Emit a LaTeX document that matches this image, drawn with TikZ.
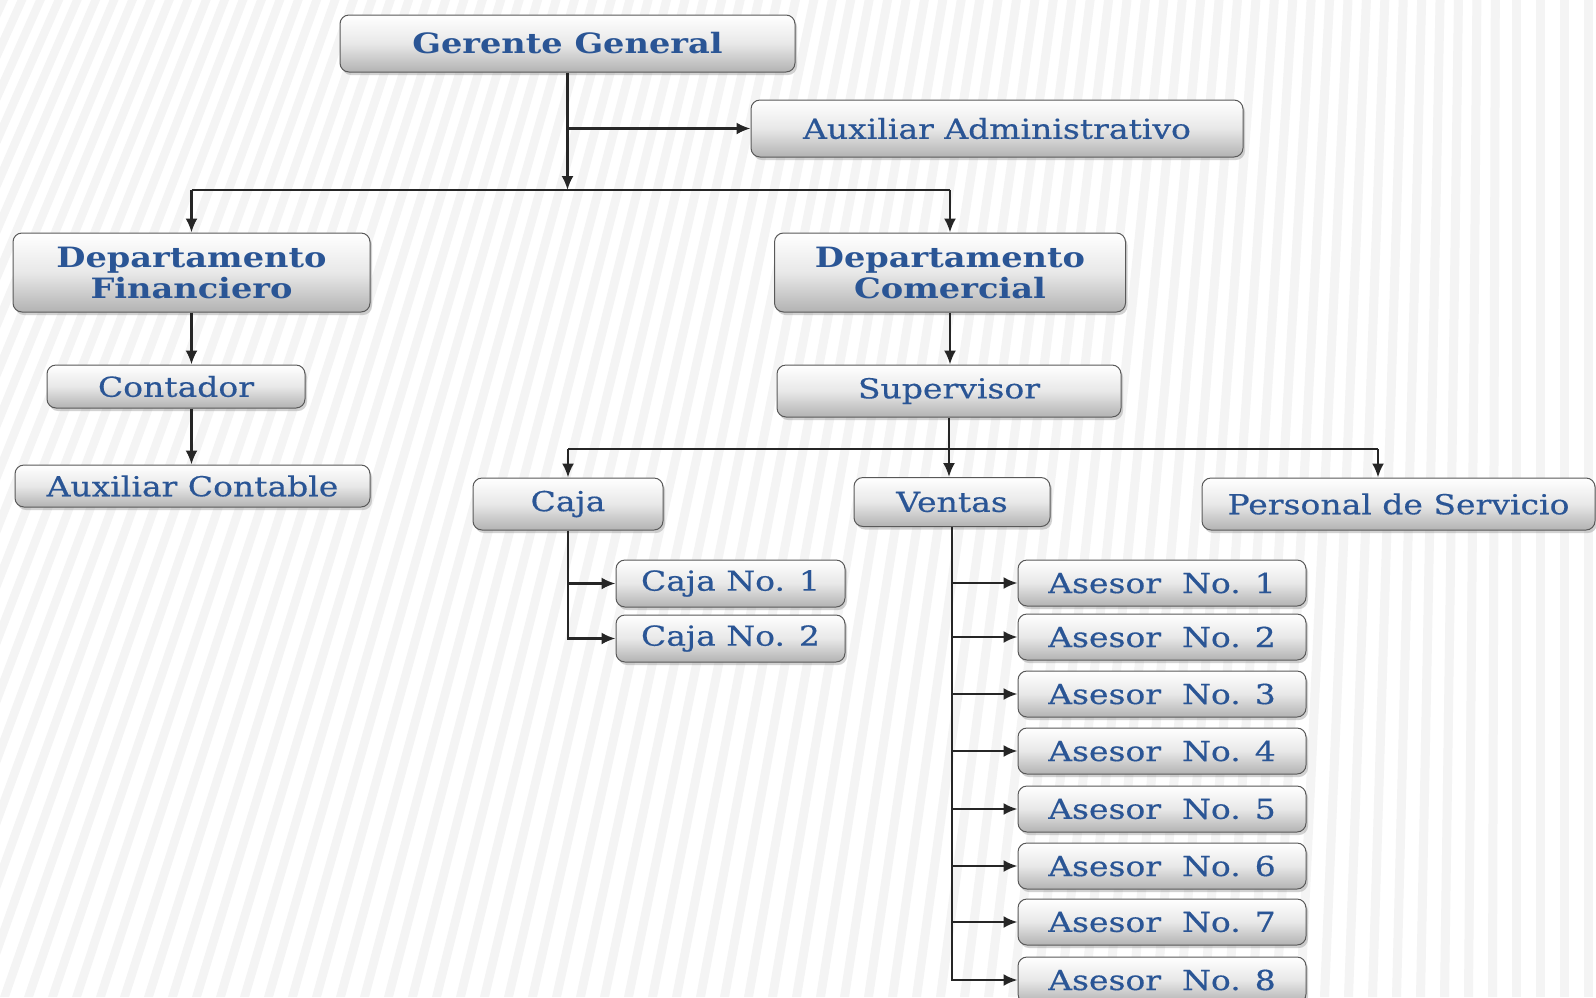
\documentclass[tikz,border=0pt]{standalone}
\usepackage{fontspec}
\setmainfont[FakeStretch=1.2]{DejaVu Serif}
\newfontfamily\regfont[FakeStretch=1.2,FakeBold=0.5]{DejaVu Serif}
\usetikzlibrary{arrows.meta,shadows}
\definecolor{txtblue}{HTML}{2A5595}
\begin{document}
\begin{tikzpicture}[x=1pt,y=-1pt,
  orgbox/.style={draw=gray!70!black, line width=1pt, rounded corners=9pt,
    top color=white, bottom color=gray!60, middle color=gray!18,
    drop shadow={shadow xshift=2pt, shadow yshift=-3pt, opacity=0.35, fill=gray},
    text=txtblue, inner sep=0pt, align=center},
  bigtxt/.style={font=\bfseries\fontsize{28}{31}\selectfont},
  smalltxt/.style={font=\regfont\fontsize{27.5}{30}\selectfont},
  ln/.style={line width=2.3pt, black!85},
  conn/.style={ln, -{Latex[length=14pt,width=12pt]}},
  stripe/.style={fill=gray!9}
]
\useasboundingbox (0,0) rectangle (1596,997);
\clip (0,0) rectangle (1596,997);
% background
\fill[white] (0,0) rectangle (1596,997);
\foreach \i in {-25,...,70} {
  \pgfmathsetmacro\xo{\i*24}
  \pgfmathsetmacro\s{max(0,0.35*(1-\xo/1500))*997}
  \fill[stripe] (\xo,997) -- (\xo+9,997) -- (\xo+9+\s,0) -- (\xo+\s,0) -- cycle;
}
% nodes
\node[orgbox, bigtxt, minimum width=455pt, minimum height=57pt] (gg) at (567.5,43.5) {Gerente General};
\node[orgbox, smalltxt, minimum width=492pt, minimum height=57pt] (aux) at (997,128.5) {Auxiliar Administrativo};
\node[orgbox, bigtxt, minimum width=357pt, minimum height=79pt] (df) at (191.5,272.5) {Departamento\\Financiero};
\node[orgbox, bigtxt, minimum width=351pt, minimum height=79pt] (dc) at (950,272.5) {Departamento\\Comercial};
\node[orgbox, smalltxt, minimum width=258pt, minimum height=43pt] (cont) at (176,386.5) {Contador};
\node[orgbox, smalltxt, minimum width=355pt, minimum height=42pt] (auxc) at (192.5,486) {Auxiliar Contable};
\node[orgbox, smalltxt, minimum width=344pt, minimum height=52pt] (sup) at (949,391) {Supervisor};
\node[orgbox, smalltxt, minimum width=190pt, minimum height=52pt] (caja) at (568,504) {Caja};
\node[orgbox, smalltxt, minimum width=196pt, minimum height=49pt] (ventas) at (952,502) {Ventas};
\node[orgbox, smalltxt, minimum width=393pt, minimum height=52pt] (ps) at (1398.5,504) {Personal de Servicio};
\node[orgbox, smalltxt, minimum width=229pt, minimum height=47pt] (c1) at (730.5,583.5) {Caja No. 1};
\node[orgbox, smalltxt, minimum width=229pt, minimum height=47pt] (c2) at (730.5,638.5) {Caja No. 2};
\foreach \i/\yy in {1/583,2/637,3/694,4/751,5/809,6/866,7/922,8/980} {
  \node[orgbox, smalltxt, minimum width=288pt, minimum height=46pt] (a\i) at (1162,\yy) {Asesor\ \ No. \i};
}
% connectors
\coordinate (busM) at (567.5,190);
\coordinate (busL) at (191.5,190);
\coordinate (busR) at (950,190);
\draw[conn] (gg.south) -- (busM);
\draw[conn] (gg.south |- aux.west) -- (aux.west);
\draw[ln] (busL) -- (busR);
\draw[conn] (busL) -- (busL |- df.north);
\draw[conn] (busR) -- (busR |- dc.north);
\draw[conn] (df.south) -- (df.south |- cont.north);
\draw[conn] (df.south |- cont.south) -- (df.south |- auxc.north);
\draw[conn] (dc.south) -- (dc.south |- sup.north);
\coordinate (busA) at (568,449);
\coordinate (busB) at (1378,449);
\draw[ln] (busA) -- (busB);
\draw[conn] (sup.south) -- (sup.south |- ventas.north);
\draw[conn] (busA) -- (busA |- caja.north);
\draw[conn] (busB) -- (busB |- ps.north);
\draw[conn] (caja.south) |- (c1.west);
\draw[conn] (caja.south) |- (c2.west);
\foreach \i in {1,...,8} {
  \draw[conn] (ventas.south) |- (a\i.west);
}
\end{tikzpicture}
\end{document}
